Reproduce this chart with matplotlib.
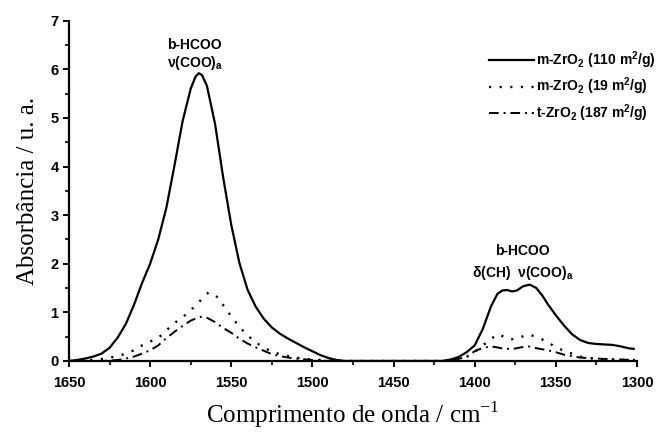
import matplotlib

matplotlib.use("Agg")
import matplotlib.pyplot as plt
from matplotlib.ticker import MultipleLocator

# wavenumber (cm-1) / absorbance
wn_110 = [1650, 1645, 1640, 1635, 1630, 1625, 1620, 1615, 1610, 1605, 1600, 1595,
          1590, 1585, 1580, 1575, 1572, 1570, 1568, 1565, 1560, 1555, 1550, 1545,
          1540, 1535, 1530, 1525, 1520, 1515, 1510, 1505, 1500, 1495, 1490, 1485,
          1480, 1420, 1415, 1410, 1405, 1400, 1395, 1390, 1386, 1383, 1380, 1377,
          1374, 1370, 1366, 1362, 1358, 1355, 1350, 1345, 1340, 1335, 1330, 1325,
          1320, 1315, 1310, 1305, 1302]
abs_110 = [0.0, 0.02, 0.05, 0.09, 0.15, 0.27, 0.48, 0.76, 1.15, 1.6, 2.0, 2.5,
           3.15, 4.02, 4.93, 5.6, 5.85, 5.92, 5.88, 5.66, 4.88, 3.78, 2.8, 2.02,
           1.47, 1.12, 0.87, 0.69, 0.56, 0.46, 0.37, 0.28, 0.2, 0.12, 0.06, 0.02,
           0.0, 0.0, 0.03, 0.08, 0.18, 0.32, 0.66, 1.12, 1.38, 1.45, 1.46, 1.43,
           1.45, 1.54, 1.57, 1.5, 1.33, 1.17, 0.94, 0.73, 0.55, 0.43, 0.37, 0.35,
           0.34, 0.33, 0.3, 0.26, 0.25]

wn_19 = [1650, 1640, 1630, 1625, 1620, 1615, 1610, 1605, 1600, 1595, 1590, 1585,
         1580, 1575, 1570, 1566, 1564, 1561, 1558, 1554, 1550, 1545, 1540, 1535,
         1530, 1525, 1520, 1515, 1510, 1505, 1500, 1490, 1480, 1415, 1410, 1405,
         1400, 1395, 1390, 1386, 1382, 1378, 1373, 1368, 1365, 1361, 1356, 1351,
         1345, 1340, 1335, 1325, 1315, 1305, 1301]
abs_19 = [0.0, 0.01, 0.04, 0.07, 0.1, 0.15, 0.22, 0.32, 0.4, 0.47, 0.63, 0.78,
          0.9, 1.04, 1.21, 1.35, 1.41, 1.37, 1.3, 1.1, 0.92, 0.7, 0.53, 0.38,
          0.28, 0.19, 0.14, 0.1, 0.07, 0.04, 0.03, 0.01, 0.0, 0.0, 0.03, 0.08,
          0.19, 0.32, 0.45, 0.55, 0.5, 0.44, 0.47, 0.54, 0.53, 0.48, 0.41, 0.3,
          0.21, 0.15, 0.09, 0.04, 0.03, 0.02, 0.02]

wn_187 = [1650, 1630, 1620, 1615, 1610, 1605, 1600, 1595, 1590, 1585, 1580, 1575,
          1570, 1568, 1565, 1560, 1555, 1550, 1545, 1540, 1535, 1530, 1525, 1520,
          1515, 1510, 1500, 1490, 1415, 1410, 1405, 1400, 1395, 1390, 1386, 1382,
          1376, 1370, 1367, 1363, 1360, 1355, 1350, 1345, 1340, 1335, 1325, 1318,
          1310, 1302]
abs_187 = [0.0, 0.0, 0.02, 0.05, 0.09, 0.15, 0.22, 0.32, 0.47, 0.6, 0.72, 0.83,
           0.9, 0.91, 0.89, 0.8, 0.68, 0.58, 0.46, 0.36, 0.28, 0.21, 0.14, 0.1,
           0.07, 0.05, 0.02, 0.0, 0.0, 0.04, 0.09, 0.2, 0.27, 0.3, 0.28, 0.25,
           0.25, 0.29, 0.3, 0.27, 0.25, 0.22, 0.18, 0.13, 0.1, 0.07, 0.05, 0.04,
           0.03, 0.02]

labels = [r"m-ZrO$_\mathbf{2}$ (110 m$^\mathbf{2}$/g)",
          r"m-ZrO$_\mathbf{2}$ (19 m$^\mathbf{2}$/g)",
          r"t-ZrO$_\mathbf{2}$ (187 m$^\mathbf{2}$/g)"]

plt.rcParams["font.family"] = "Liberation Sans"
plt.rcParams["mathtext.fontset"] = "custom"
plt.rcParams["mathtext.bf"] = "Liberation Sans:bold"
plt.rcParams["mathtext.rm"] = "Liberation Serif"

fig = plt.figure(figsize=(6.67, 4.32), dpi=100)
ax = fig.add_axes([0.1034, 0.1644, 0.8516, 0.7877])

ax.plot(wn_110, abs_110, color="black", linewidth=1.6, label=labels[0])
ax.plot(wn_19, abs_19, color="black", linewidth=1.7, linestyle=(0, (0.9, 3.6)),
        label=labels[1])
ax.plot(wn_187, abs_187, color="black", linewidth=1.4,
        linestyle=(0, (5, 2.5, 1, 2.5)), label=labels[2])

ax.set_xlim(1650, 1300)
ax.set_ylim(0, 7)
ax.xaxis.set_major_locator(MultipleLocator(50))
ax.xaxis.set_minor_locator(MultipleLocator(25))
ax.yaxis.set_major_locator(MultipleLocator(1))
ax.yaxis.set_minor_locator(MultipleLocator(0.5))

for side in ("top", "right"):
    ax.spines[side].set_visible(False)
for side in ("left", "bottom"):
    ax.spines[side].set_linewidth(1.6)

ax.tick_params(axis="both", which="major", direction="out", length=4.5, width=1.4)
ax.tick_params(axis="both", which="minor", direction="out", length=3, width=1.2)
ax.tick_params(axis="x", which="major", pad=6)
ax.tick_params(axis="y", which="major", pad=3)
for lab in ax.get_xticklabels() + ax.get_yticklabels():
    lab.set_fontweight("bold")
    lab.set_fontsize(10.5)

ax.set_xlabel(r"Comprimento de onda / cm$^{\mathrm{-1}}$", family="Liberation Serif",
              fontsize=18, labelpad=7)
ax.set_ylabel("Absorbância / u. a.", family="Liberation Serif", fontsize=18,
              labelpad=8)

ax.text(1572.5, 6.5, "b-HCOO", ha="center", va="center", fontsize=10,
        fontweight="bold")
ax.text(1572.5, 6.13, r"ν(COO)$_\mathbf{a}$", ha="center", va="center",
        fontsize=10, fontweight="bold")
ax.text(1370.5, 2.27, "b-HCOO", ha="center", va="center", fontsize=10,
        fontweight="bold")
ax.text(1370.5, 1.8, r"δ(CH)  ν(COO)$_\mathbf{a}$", ha="center", va="center",
        fontsize=10, fontweight="bold")

ax.legend(loc="upper left", bbox_to_anchor=(0.723, 0.902),
          bbox_transform=fig.transFigure, frameon=False, borderpad=0,
          handlelength=3.2, handletextpad=0.15, labelspacing=0.36,
          prop={"weight": "bold", "size": 10})

fig.savefig("out.png", dpi=100)
